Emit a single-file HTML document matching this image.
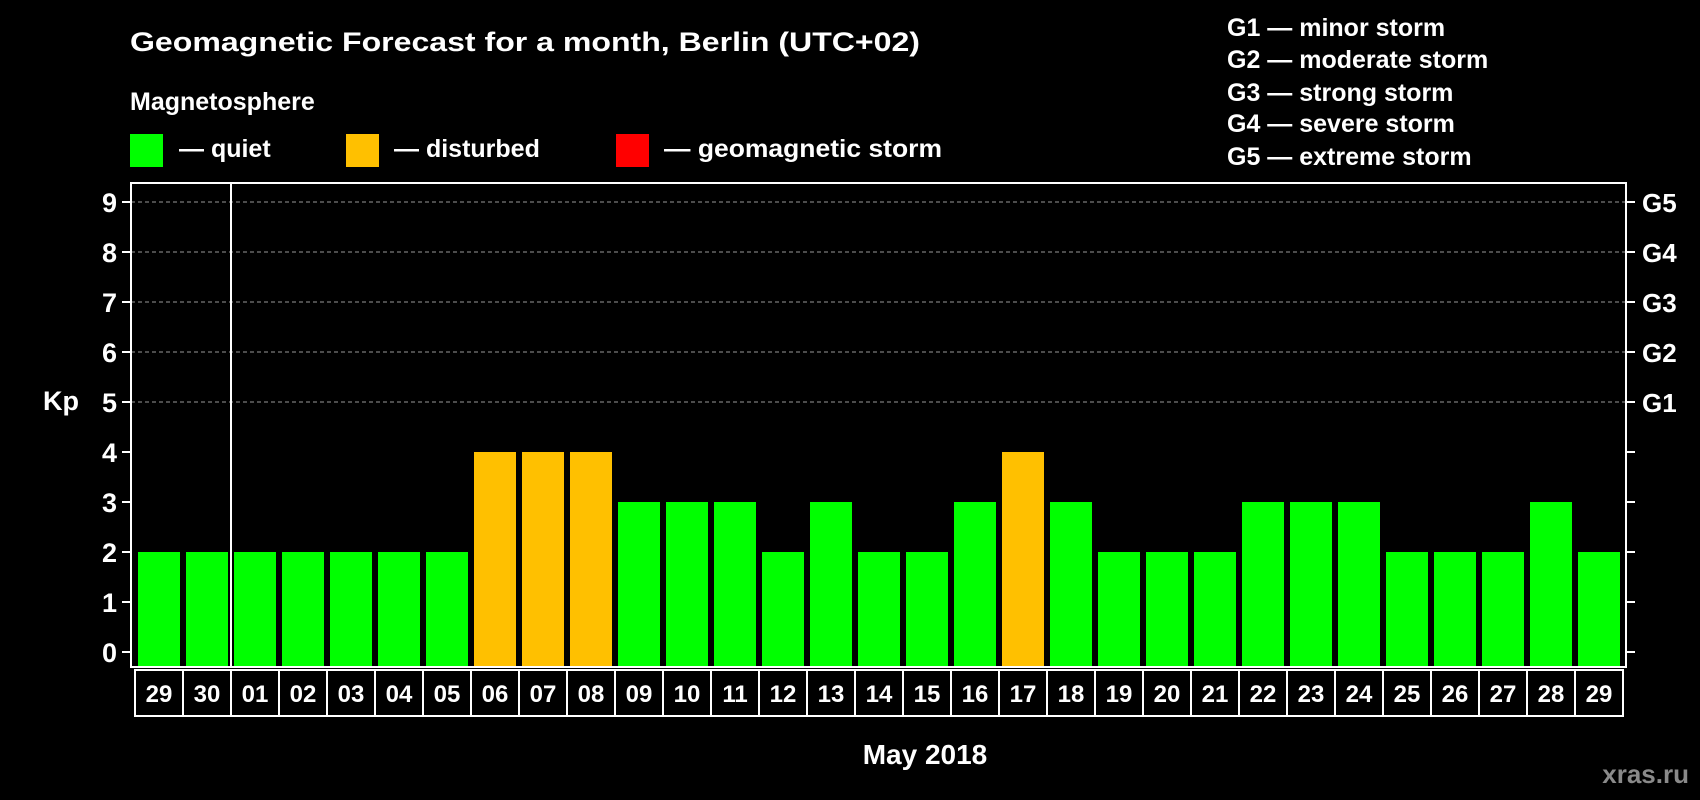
<!DOCTYPE html>
<html><head><meta charset="utf-8"><style>
html,body{margin:0;padding:0;background:#000;}
svg{display:block;font-family:"Liberation Sans",Arial,sans-serif;font-weight:bold;}
</style></head><body>
<svg id="chart" width="1700" height="800" viewBox="0 0 1700 800">
<rect width="1700" height="800" fill="#000"/>
<text x="130" y="51" fill="#fff" font-size="27" textLength="790" lengthAdjust="spacingAndGlyphs">Geomagnetic Forecast for a month, Berlin (UTC+02)</text>
<text x="130" y="110" fill="#fff" font-size="25">Magnetosphere</text>
<g><rect x="130" y="134" width="33" height="33" fill="#00ff00"/><text x="179" y="157" fill="#fff" font-size="25">— quiet</text></g>
<g><rect x="346" y="134" width="33" height="33" fill="#ffc000"/><text x="394" y="157" fill="#fff" font-size="25">— disturbed</text></g>
<g><rect x="616" y="134" width="33" height="33" fill="#ff0000"/><text x="664" y="157" fill="#fff" font-size="25" textLength="278" lengthAdjust="spacingAndGlyphs">— geomagnetic storm</text></g>
<g fill="#fff" font-size="25">
<text x="1227" y="36">G1 — minor storm</text>
<text x="1227" y="68">G2 — moderate storm</text>
<text x="1227" y="101">G3 — strong storm</text>
<text x="1227" y="132">G4 — severe storm</text>
<text x="1227" y="165">G5 — extreme storm</text>
</g>
<text x="43" y="410" fill="#fff" font-size="27">Kp</text>
<text x="925" y="764" fill="#fff" font-size="28" text-anchor="middle">May 2018</text>
<text x="1689" y="783" fill="#8a8a8a" font-size="26" text-anchor="end">xras.ru</text>
<g id="plot"></g>
</svg>
<script>
const days = ["29","30","01","02","03","04","05","06","07","08","09","10","11","12","13","14","15","16","17","18","19","20","21","22","23","24","25","26","27","28","29"];
const kpValues = [2,2,2,2,2,2,2,4,4,4,3,3,3,2,3,2,2,3,4,3,2,2,2,3,3,3,2,2,2,3,2];
const yTicks = [0,1,2,3,4,5,6,7,8,9];
const gLabels = ["G1","G2","G3","G4","G5"];
const gLevels = [5,6,7,8,9];

const NS = "http://www.w3.org/2000/svg";
const plot = document.getElementById("plot");
const L = 131, R = 1626, T = 183, B = 667, Y0 = 652, UNIT = 50, X0 = 135, PITCH = 48;
const yScale = v => Y0 - v * UNIT;
const xScale = i => X0 + i * PITCH;
function mk(tag, attrs) { const e = document.createElementNS(NS, tag); for (const k in attrs) e.setAttribute(k, attrs[k]); plot.appendChild(e); return e; }

gLevels.forEach((g, i) => {
  const ln = mk("line", {x1: L, x2: R, y1: yScale(g), y2: yScale(g), stroke: "#999", "stroke-width": 1, "stroke-dasharray": "4,3"});
  
  
  const t = mk("text", {x: 1642, y: yScale(g) + 10, fill: "#fff", "font-size": 26});
  t.textContent = gLabels[i];
  
  
});

kpValues.forEach((v, i) => {
  const color = v >= 5 ? "#ff0000" : (v >= 4 ? "#ffc000" : "#00ff00");
  const r = mk("rect", {x: xScale(i) + 3, y: yScale(v), width: 42, height: B - yScale(v), fill: color});
  
  
  const box = mk("rect", {x: xScale(i), y: 670, width: PITCH, height: 46, fill: "none", stroke: "#fff", "stroke-width": 2});
  
  
  const t = mk("text", {x: xScale(i) + PITCH / 2, y: 702, fill: "#fff", "font-size": 24, "text-anchor": "middle"});
  t.textContent = days[i];
  
  
});

yTicks.forEach(v => {
  const tk = mk("line", {x1: 122, x2: L, y1: yScale(v), y2: yScale(v), stroke: "#fff", "stroke-width": 2});
  
  
  const tr = mk("line", {x1: R, x2: R + 9, y1: yScale(v), y2: yScale(v), stroke: "#fff", "stroke-width": 2});
  
  
  const t = mk("text", {x: 117, y: yScale(v) + 10, fill: "#fff", "font-size": 27, "text-anchor": "end"});
  t.textContent = v;
  
  
});

const frame = mk("rect", {x: L, y: T, width: R - L, height: B - T, fill: "none", stroke: "#fff", "stroke-width": 2});


const sep = mk("line", {x1: xScale(2), x2: xScale(2), y1: T, y2: B, stroke: "#fff", "stroke-width": 2});


</script>
</body></html>
